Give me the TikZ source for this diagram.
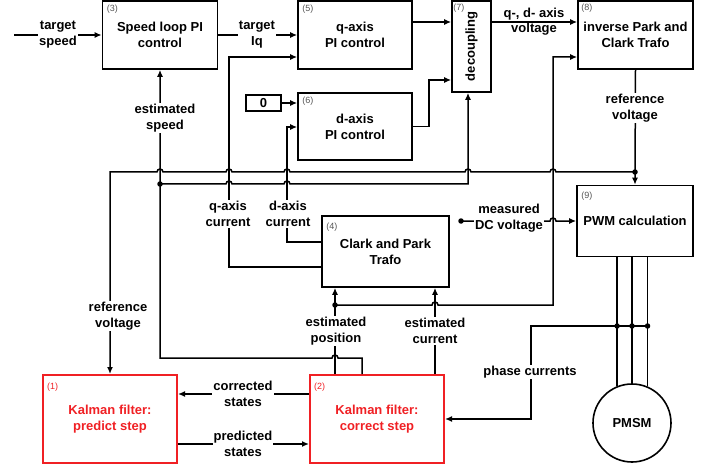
\documentclass[tikz,border=0pt]{standalone}
\usepackage{fontspec}
\setmainfont{Liberation Sans}
\usetikzlibrary{arrows.meta, positioning, calc}
\definecolor{KalmanRed}{RGB}{240,32,36}
\definecolor{NumGray}{RGB}{85,85,85}
\newcommand{\blkfont}{\fontsize{13}{16}\selectfont\bfseries}
\newcommand{\numfont}{\fontsize{9}{10}\selectfont}

\begin{document}
\begin{tikzpicture}[x=1pt,y=-1pt,
        blk/.style={draw,line width=1.6pt,align=center,font=\blkfont,inner sep=2pt},
        kf/.style={blk,draw=KalmanRed,text=KalmanRed,line width=2pt,
                   minimum width=134pt,minimum height=88pt},
        num/.style={font=\numfont,text=NumGray,inner sep=0pt,anchor=north west},
        lbl/.style={fill=white,align=center,font=\blkfont,inner sep=1pt},
        wire/.style={line width=1.5pt},
        arr/.style={wire,-{Latex[length=7pt,width=6pt]}},
        dot/.style={circle,fill,inner sep=0pt,minimum size=5.5pt}
      ]
        \useasboundingbox (0,0) rectangle (710,468);

        % blocks
        \node[blk,minimum width=115pt,minimum height=68pt] (speed) at (160,35)
          {Speed loop PI\\control};
        \node[blk,minimum width=114pt,minimum height=68pt] (qpi) at (355,35)
          {q-axis\\PI control};
        \node[blk,minimum width=114pt,minimum height=67pt] (dpi) at (355,126.5)
          {d-axis\\PI control};
        \node[blk,minimum width=35pt,minimum height=16pt,inner sep=0pt] (zero) at (263.5,103) {0};
        \node[blk,minimum width=39pt,minimum height=91pt] (dec) at (471.5,46.5) {};
        \node[rotate=90,font=\blkfont] at (dec.center) {decoupling};
        \node[blk,minimum width=115pt,minimum height=68pt] (ipark) at (635.5,35)
          {inverse Park and\\Clark Trafo};
        \node[blk,minimum width=116pt,minimum height=71pt] (pwm) at (635,221)
          {PWM calculation};
        \node[blk,minimum width=127pt,minimum height=71pt] (clark) at (385.5,251.5)
          {Clark and Park\\Trafo};
        \node[kf] (kfp) at (110,419) {Kalman filter:\\predict step};
        \node[kf] (kfc) at (377,419) {Kalman filter:\\correct step};
        \node[blk,circle,minimum size=78pt] (pmsm) at (632,423) {PMSM};

        \node[num] at ([xshift=5pt,yshift=-5pt]speed.north west) {(3)};
        \node[num] at ([xshift=5pt,yshift=-5pt]qpi.north west) {(5)};
        \node[num] at ([xshift=5pt,yshift=-5pt]dpi.north west) {(6)};
        \node[num] at ([xshift=2pt,yshift=-4pt]dec.north west) {(7)};
        \node[num] at ([xshift=4pt,yshift=-4pt]ipark.north west) {(8)};
        \node[num] at ([xshift=5pt,yshift=-7pt]pwm.north west) {(9)};
        \node[num] at ([xshift=5pt,yshift=-8pt]clark.north west) {(4)};
        \node[num,text=KalmanRed] at ([xshift=5pt,yshift=-9pt]kfp.north west) {(1)};
        \node[num,text=KalmanRed] at ([xshift=5pt,yshift=-9pt]kfc.north west) {(2)};

        % bus points
        \coordinate (tin) at (14,35);
        \coordinate (refv) at (635,172);
        \coordinate (espd) at (362,358);
        \coordinate (sdot) at (160,184);
        \coordinate (dcin) at (468,184);
        \coordinate (qc) at (229,267);
        \coordinate (qin) at (229,57);
        \coordinate (dc) at (287,242);
        \coordinate (din) at (287,127);
        \coordinate (dbend) at (429,80);
        \coordinate (epos) at (335,305);
        \coordinate (ecur) at (435,305);
        \coordinate (ipin) at (553,57);
        \coordinate (udc) at (461,221);
        \coordinate (ptap) at (531,326);

        % forward path
        \draw[arr] (tin) -- (speed.west);
        \draw[arr] (speed.east) -- (qpi.west);
        \draw[arr] (qpi.east |- 0,22) -- (dec.west |- 0,22);
        \draw[arr] (dpi.east) -| (dbend) -- (dec.west |- dbend);
        \draw[arr] (zero) -- (dpi.west |- zero);
        \draw[arr] (dec.east |- 0,22) -- (ipark.west |- 0,22);
        \draw[arr] (ipark.south) -- (pwm.north);
        \draw[arr] (udc) -- (550,221) arc[start angle=180,end angle=360,radius=3] -- (pwm.west);

        % reference voltage to predict step
        \draw[arr] (refv) -- (556,172) arc[start angle=360,end angle=180,radius=3]
          -- (471,172) arc[start angle=360,end angle=180,radius=3]
          -- (290,172) arc[start angle=360,end angle=180,radius=3]
          -- (232,172) arc[start angle=360,end angle=180,radius=3]
          -- (163,172) arc[start angle=360,end angle=180,radius=3]
          -- (kfp.north |- refv) -- (kfp.north);

        % estimated speed
        \draw[arr] (espd |- kfc.north) -- (espd)
          -- (338,358) arc[start angle=360,end angle=180,radius=3]
          -- (speed.south |- espd) -- (speed.south);
        \draw[arr] (sdot) -- (226,184) arc[start angle=180,end angle=360,radius=3]
          -- (284,184) arc[start angle=180,end angle=360,radius=3]
          -- (dcin) -- (dcin |- dec.south);

        % measured currents
        \draw[arr] (clark.west |- qc) -- (qc) -- (qin) -- (qpi.west |- qin);
        \draw[arr] (clark.west |- dc) -- (dc) -- (din) -- (dpi.west |- din);

        % estimated position and current
        \draw[arr] (epos |- kfc.north) -- (epos |- clark.south);
        \draw[arr] (epos) -- (432,305) arc[start angle=180,end angle=360,radius=3]
          -- (ipin |- epos) -- (ipin) -- (ipark.west |- ipin);
        \draw[arr] (ecur |- kfc.north) -- (ecur |- clark.south);

        % Kalman loop
        \draw[arr] ([yshift=25pt]kfc.west) -- ([yshift=25pt]kfp.east);
        \draw[arr] ([yshift=-25pt]kfp.east) -- ([yshift=-25pt]kfc.west);

        % motor phases
        \draw[wire] (pmsm.112.6 |- pwm.south) -- (pmsm.112.6);
        \draw[wire] (pmsm.north |- pwm.south) -- (pmsm.north);
        \draw[wire] (pmsm.67.4 |- pwm.south) -- (pmsm.67.4);
        \draw[arr] (pmsm.67.4 |- ptap) -- (ptap) |- (kfc.east);

        % dots
        \node[dot] at (refv) {};
        \node[dot] at (sdot) {};
        \node[dot] at (epos) {};
        \node[dot] at (udc) {};
        \node[dot] at (pmsm.112.6 |- ptap) {};
        \node[dot] at (pmsm.north |- ptap) {};
        \node[dot] at (pmsm.67.4 |- ptap) {};

        % wire labels
        \node[lbl] (l-tspd) at (58,35) {target\\speed};
        \node[lbl] (l-tiq) at (257,35) {target\\Iq};
        \node[align=center,font=\blkfont] (l-udq) at (534,22) {q-, d- axis\\[-1pt]voltage};
        \node[lbl] (l-refr) at (635,108) {reference\\voltage};
        \node[lbl] (l-espd) at (165,118) {estimated\\speed};
        \node[lbl] (l-qcur) at (228,214) {q-axis\\current};
        \node[lbl] (l-dcur) at (288,214) {d-axis\\current};
        \node[lbl] (l-udc) at (509,218) {measured\\DC voltage};
        \node[lbl] (l-refl) at (118,316) {reference\\voltage};
        \node[lbl] (l-epos) at (336,331) {estimated\\position};
        \node[lbl] (l-ecur) at (435,331) {estimated\\current};
        \node[lbl] (l-phase) at (530,372) {phase currents};
        \node[lbl] (l-corr) at (243,394) {corrected\\states};
        \node[lbl] (l-pred) at (243,444) {predicted\\states};
      \end{tikzpicture}
\end{document}
